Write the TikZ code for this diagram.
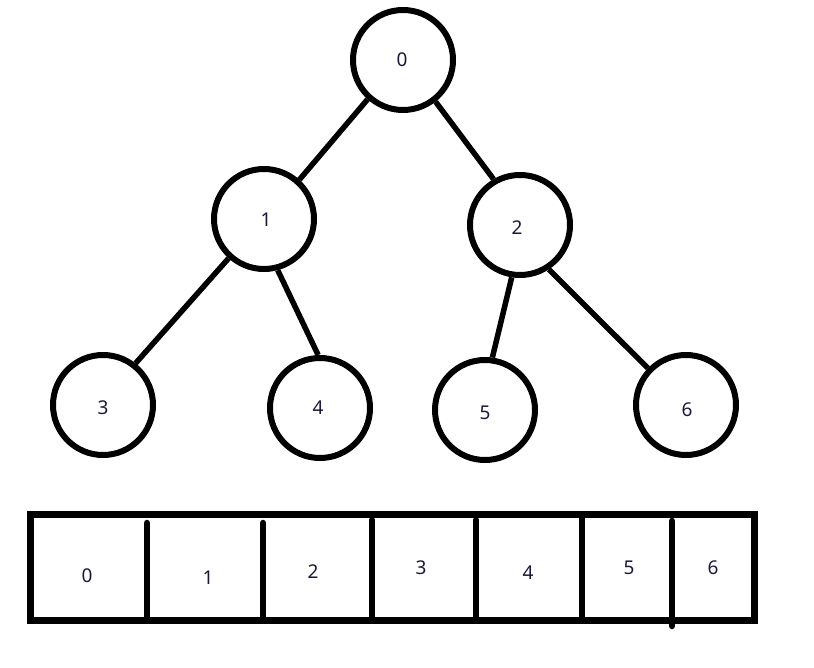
\documentclass[tikz,border=0pt]{standalone}
\usepackage{fontspec}
\setmainfont{Noto Sans}
\definecolor{txt}{RGB}{28,24,58}
\begin{document}
\begin{tikzpicture}[x=1pt,y=-1pt,
  treenode/.style={circle,draw=black,line width=6pt,fill=white,minimum size=100pt,inner sep=0pt,font=\fontsize{19}{19}\selectfont,text=txt},
  edge/.style={draw=black,line width=5.5pt},
  cellline/.style={draw=black,line width=6.5pt,line cap=round},
  celltext/.style={font=\fontsize{19}{19}\selectfont,text=txt,inner sep=0pt}]
\useasboundingbox[fill=white] (0,0) rectangle (814,668);
% edges first
\coordinate (c0) at (403,60);
\coordinate (c1) at (264,219);
\coordinate (c2) at (520,225);
\coordinate (c3) at (103,405);
\coordinate (c4) at (320,408);
\coordinate (c5) at (485,410);
\coordinate (c6) at (686,405);
\node[treenode] (n0) at (c0) {};
\node[treenode] (n1) at (c1) {};
\node[treenode] (n2) at (c2) {};
\node[treenode] (n3) at (c3) {};
\node[treenode] (n4) at (c4) {};
\node[treenode] (n5) at (c5) {};
\node[treenode] (n6) at (c6) {};
\draw[edge] (n0.228) -- (n1.48);
\draw[edge] (n0.-52) -- (n2.120);
\draw[edge] (n1.228) -- (n3.52);
\draw[edge] (n1.-75) -- (n4.92);
\draw[edge] (n2.-99) -- (n5.82);
\draw[edge] (n2.-57) -- (n6.136);
\node[celltext] (l0) at (402,60) {0};
\node[celltext] (l1) at (266,220) {1};
\node[celltext] (l2) at (517,228) {2};
\node[celltext] (l3) at (103,408) {3};
\node[celltext] (l4) at (318,408) {4};
\node[celltext] (l5) at (485,413) {5};
\node[celltext] (l6) at (687,410) {6};
% array
\draw[draw=black,line width=7pt] (30.5,514.5) coordinate (tl) rectangle (754.5,620) coordinate (br);
\draw[cellline] (147,523) -- (147,620);
\draw[cellline] (263,523) -- (263,620);
\draw[cellline] (372,520) -- (372,620);
\draw[cellline] (476,520) -- (476,620);
\draw[draw=black,line width=6.5pt] (582,514.5) -- (582,620);
\draw[cellline] (672,521) -- (672,626);
\node[celltext] (a0) at (87,576) {0};
\node[celltext] (a1) at (208,578) {1};
\node[celltext] (a2) at (313,572) {2};
\node[celltext] (a3) at (421,568) {3};
\node[celltext] (a4) at (528,573) {4};
\node[celltext] (a5) at (629,568) {5};
\node[celltext] (a6) at (713,568) {6};
\end{tikzpicture}
\end{document}
